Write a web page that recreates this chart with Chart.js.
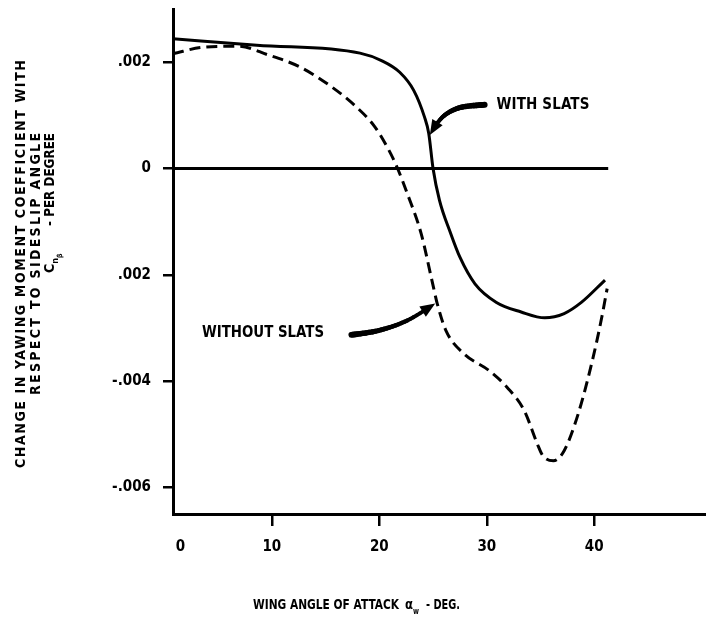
<!DOCTYPE html>
<html>
<head>
<meta charset="utf-8">
<script src="https://cdn.jsdelivr.net/npm/chart.js@4/dist/chart.umd.min.js"></script>
<style>
  html, body { margin: 0; padding: 0; background: #fff; }
  #wrap { width: 706px; height: 618px; }
</style>
</head>
<body>
<div id="wrap"><canvas id="cn-chart" width="706" height="618"></canvas></div>
<script>
// wing angle of attack (deg) and C_n_beta (per degree)
const ALPHA_WITH = [0.8, 8.6, 18.2, 20.2, 21.9, 23.2, 24.2, 24.6, 25.0, 25.6, 26.6, 27.5, 28.9, 30.9, 33.2, 35.4, 37.2, 38.8, 41.0];
const CN_WITH = [0.00244, 0.00232, 0.00217, 0.00203, 0.00181, 0.00147, 0.00097, 0.00066, 0.0, -0.0006, -0.0012, -0.00167, -0.00217, -0.00252, -0.0027, -0.00281, -0.00273, -0.00252, -0.0021];

const ALPHA_WITHOUT = [0.8, 3.6, 6.9, 9.6, 12.6, 15.6, 17.9, 19.6, 20.9, 21.7, 22.6, 23.9, 24.9, 25.4, 26.2, 27.9, 30.2, 31.9, 33.5, 34.7, 35.2, 36.2, 37.2, 38.5, 39.9, 40.7, 41.2];
const CN_WITHOUT = [0.00216, 0.00228, 0.0023, 0.00214, 0.00191, 0.00153, 0.00115, 0.00078, 0.00034, 0.0, -0.00047, -0.00123, -0.00211, -0.00255, -0.00305, -0.00349, -0.0038, -0.00412, -0.00456, -0.00518, -0.0054, -0.0055, -0.00531, -0.00462, -0.00355, -0.0028, -0.00226];

const ZERO_ALPHA = [0.8, 41.3];
const ZERO_CN = [0, 0];

const X_TICKS = [1.5, 10, 20, 30, 40];
const X_TICK_LABELS = ["0", "10", "20", "30", "40"];
const Y_TICKS = [0.002, 0, -0.002, -0.004, -0.006];
const Y_TICK_LABELS = [".002", "0", ".002", "-.004", "-.006"];

const X_MIN = 0.8, X_MAX = 50.4;
const Y_MIN = -0.0065, Y_MAX = 0.003;

// callouts, in data units
const WITH_LABEL = { text: "WITH SLATS", at: [30.9, 0.00119] };
const WITH_ARROW = [[29.8, 0.0012], [27.6, 0.00115], [26.2, 0.00102], [25.3, 0.00083], [24.7, 0.00063]];
const WITHOUT_LABEL = { text: "WITHOUT SLATS", at: [3.5, -0.00309] };
const WITHOUT_ARROW = [[17.4, -0.00313], [19.9, -0.00305], [22.6, -0.00286], [25.2, -0.00254]];

const INK = "#000";
const FAMILY = "'DejaVu Sans Condensed', 'DejaVu Sans', sans-serif";

function toPoints(xs, ys) {
    return xs.map((x, i) => ({ x: x, y: ys[i] }));
}

function smooth(pts, steps) {
    // catmull-rom through the pixel points
    const out = [];
    for (let i = 0; i < pts.length - 1; i++) {
        const p0 = pts[Math.max(i - 1, 0)], p1 = pts[i], p2 = pts[i + 1], p3 = pts[Math.min(i + 2, pts.length - 1)];
        for (let s = 0; s < steps; s++) {
            const t = s / steps, t2 = t * t, t3 = t2 * t;
            const f = (a, b, c, d) => 0.5 * (2 * b + (-a + c) * t + (2 * a - 5 * b + 4 * c - d) * t2 + (-a + 3 * b - 3 * c + d) * t3);
            out.push([f(p0[0], p1[0], p2[0], p3[0]), f(p0[1], p1[1], p2[1], p3[1])]);
        }
    }
    out.push(pts[pts.length - 1]);
    return out;
}

function drawArrow(ctx, pts) {
    const path = smooth(pts, 10);
    const tip = path[path.length - 1];
    const headLen = 15, headW = 12;
    const shaft = path.filter((p) => Math.hypot(p[0] - tip[0], p[1] - tip[1]) > headLen * 0.7);
    ctx.lineCap = "round";
    for (let i = 1; i < shaft.length; i++) {
        ctx.lineWidth = 6 - 2.5 * (i / shaft.length);
        ctx.beginPath();
        ctx.moveTo(shaft[i - 1][0], shaft[i - 1][1]);
        ctx.lineTo(shaft[i][0], shaft[i][1]);
        ctx.stroke();
    }
    const base = shaft[shaft.length - 1];
    const ang = Math.atan2(tip[1] - base[1], tip[0] - base[0]);
    const bx = tip[0] - headLen * Math.cos(ang), by = tip[1] - headLen * Math.sin(ang);
    const nx = -Math.sin(ang) * headW / 2, ny = Math.cos(ang) * headW / 2;
    ctx.beginPath();
    ctx.moveTo(tip[0], tip[1]);
    ctx.lineTo(bx + nx, by + ny);
    ctx.lineTo(bx - nx, by - ny);
    ctx.closePath();
    ctx.fill();
}

// draw text left-aligned so that it spans `width`: squeeze if too wide, letter-space if too narrow
function fitText(ctx, text, x, y, width) {
    ctx.letterSpacing = "0px";
    const w = ctx.measureText(text).width;
    if (!width) {
        ctx.fillText(text, x, y);
        return w;
    }
    if (w > width) {
        ctx.save();
        ctx.translate(x, y);
        ctx.scale(width / w, 1);
        ctx.fillText(text, 0, 0);
        ctx.restore();
    } else {
        ctx.letterSpacing = ((width - w) / Math.max(text.length - 1, 1)).toFixed(2) + "px";
        ctx.fillText(text, x, y);
        ctx.letterSpacing = "0px";
    }
    return width;
}

const annotate = {
    id: "annotate",
    afterDatasetsDraw(chart) {
        const { ctx, chartArea } = chart;
        const xs = chart.scales.x, ys = chart.scales.y;
        const px = (p) => [xs.getPixelForValue(p[0]), ys.getPixelForValue(p[1])];

        ctx.save();
        ctx.fillStyle = INK;
        ctx.strokeStyle = INK;
        ctx.textBaseline = "middle";
        ctx.textAlign = "left";
        ctx.font = "bold 15px " + FAMILY;

        let p = px(WITH_LABEL.at);
        fitText(ctx, WITH_LABEL.text, p[0], p[1], 93);
        p = px(WITHOUT_LABEL.at);
        fitText(ctx, WITHOUT_LABEL.text, p[0], p[1], 122);

        drawArrow(ctx, WITH_ARROW.map(px));
        drawArrow(ctx, WITHOUT_ARROW.map(px));

        // x axis title
        const ty = chartArea.bottom + 91;
        let cx = chartArea.left + 80;
        ctx.font = "bold 14px " + FAMILY;
        cx += fitText(ctx, "WING ANGLE OF ATTACK", cx, ty, 146);
        cx += 6;
        cx += fitText(ctx, "\u03b1", cx, ty, 8);
        ctx.font = "bold 9px " + FAMILY;
        cx += fitText(ctx, "w", cx, ty + 7, 6);
        cx += 7;
        ctx.font = "bold 14px " + FAMILY;
        fitText(ctx, "- DEG.", cx, ty, 34);

        // y axis title, rotated (text runs bottom to top)
        ctx.rotate(-Math.PI / 2);
        ctx.font = "bold 14px " + FAMILY;
        fitText(ctx, "CHANGE IN YAWING MOMENT COEFFICIENT WITH", -468, 21, 408);
        fitText(ctx, "RESPECT TO SIDESLIP ANGLE", -395, 36, 262);
        let u = -273;
        ctx.font = "bold 14px " + FAMILY;
        u += fitText(ctx, "C", u, 50, 0);
        ctx.font = "bold 9px " + FAMILY;
        u += fitText(ctx, "n", u, 56, 0);
        ctx.font = "bold 7px " + FAMILY;
        fitText(ctx, "\u03b2", u, 60, 0);
        ctx.font = "bold 14px " + FAMILY;
        fitText(ctx, "- PER DEGREE", -226, 50, 93);
        ctx.restore();
    },
};

const tickFont = { family: FAMILY, weight: "bold", size: 15 };

new Chart(document.getElementById("cn-chart"), {
    type: "line",
    data: {
        datasets: [
            {
                label: "WITH SLATS",
                data: toPoints(ALPHA_WITH, CN_WITH),
                borderColor: INK,
                borderWidth: 3,
                pointRadius: 0,
                cubicInterpolationMode: "monotone",
            },
            {
                label: "WITHOUT SLATS",
                data: toPoints(ALPHA_WITHOUT, CN_WITHOUT),
                borderColor: INK,
                borderWidth: 3,
                borderDash: [11, 6],
                pointRadius: 0,
                cubicInterpolationMode: "monotone",
            },
            {
                label: "zero",
                data: toPoints(ZERO_ALPHA, ZERO_CN),
                borderColor: INK,
                borderWidth: 3,
                pointRadius: 0,
            },
        ],
    },
    options: {
        responsive: false,
        animation: false,
        layout: { padding: { top: 9, right: 0, bottom: 0, left: 0 } },
        plugins: { legend: { display: false }, tooltip: { enabled: false } },
        scales: {
            x: {
                type: "linear",
                min: X_MIN,
                max: X_MAX,
                afterBuildTicks: (s) => { s.ticks = X_TICKS.map((v) => ({ value: v })); },
                afterFit: (s) => { s.height = 104; s.paddingLeft = 0; s.paddingRight = 0; },
                ticks: {
                    color: INK,
                    font: tickFont,
                    padding: 12,
                    maxRotation: 0,
                    autoSkip: false,
                    callback: (v, i) => X_TICK_LABELS[i],
                },
                grid: {
                    drawOnChartArea: false,
                    drawTicks: true,
                    tickLength: 12,
                    lineWidth: 2.5,
                    color: (c) => (c.index === 0 ? "rgba(0,0,0,0)" : INK),
                },
                border: { color: INK, width: 3 },
            },
            y: {
                type: "linear",
                min: Y_MIN,
                max: Y_MAX,
                afterBuildTicks: (s) => { s.ticks = Y_TICKS.map((v) => ({ value: v })); },
                afterFit: (s) => { s.width = 173; s.paddingTop = 0; s.paddingBottom = 0; },
                ticks: {
                    color: INK,
                    font: tickFont,
                    padding: 12,
                    autoSkip: false,
                    callback: (v, i) => Y_TICK_LABELS[i],
                },
                grid: {
                    drawOnChartArea: false,
                    drawTicks: true,
                    tickLength: 10,
                    lineWidth: 2.5,
                    color: INK,
                },
                border: { color: INK, width: 3 },
            },
        },
    },
    plugins: [annotate],
});
</script>
</body>
</html>
